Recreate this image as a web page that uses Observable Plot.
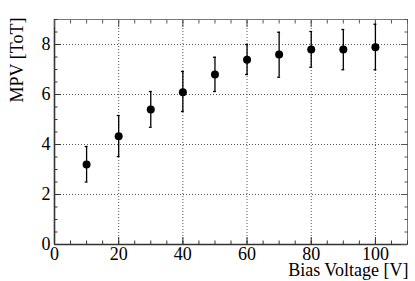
<!DOCTYPE html>
<html>
<head>
<meta charset="utf-8">
<script src="https://cdn.jsdelivr.net/npm/d3@7"></script>
<script src="https://cdn.jsdelivr.net/npm/@observablehq/plot@0.6"></script>
<style>
  html, body { margin: 0; padding: 0; background: #fff; }
  svg text { font-family: 'Liberation Serif', 'DejaVu Serif', serif; }
</style>
</head>
<body>
<div id="chart"></div>
<script>
// Data
const voltage = [10, 20, 30, 40, 50, 60, 70, 80, 90, 100];
const mpv     = [3.2, 4.33, 5.4, 6.09, 6.8, 7.39, 7.6, 7.8, 7.8, 7.89];
const errLow  = [0.7, 0.81, 0.71, 0.77, 0.68, 0.59, 0.91, 0.71, 0.81, 0.9];
const errHigh = [0.72, 0.83, 0.72, 0.83, 0.69, 0.61, 0.89, 0.72, 0.8, 0.92];

const xMajor = [0, 20, 40, 60, 80, 100];
const xMinor = d3.range(0, 111, 5);
const yMajor = [0, 2, 4, 6, 8];
const yMinor = d3.range(0, 9.01, 0.5);
const xGrid = [20, 40, 60, 80, 100];
const yGrid = [2, 4, 6, 8];

const xTitle = "Bias Voltage [V]";
const yTitle = "MPV [ToT]";

const data = voltage.map((v, i) => ({
  v, m: mpv[i], lo: mpv[i] - errLow[i], hi: mpv[i] + errHigh[i]
}));

const font = "'Liberation Serif', 'DejaVu Serif', serif";

const chart = Plot.plot({
  width: 415,
  height: 281,
  marginLeft: 54,
  marginRight: 8,
  marginTop: 19,
  marginBottom: 37,
  style: { fontFamily: font, fontSize: "18px", background: "#fff", color: "#000" },
  x: { domain: [0, 110] },
  y: { domain: [0, 9] },
  marks: [
    // grid
    Plot.ruleX(xGrid, { stroke: "#555", strokeDasharray: "1,2", strokeWidth: 1 }),
    Plot.ruleY(yGrid, { stroke: "#555", strokeDasharray: "1,2", strokeWidth: 1 }),
    // frame
    Plot.frame({ stroke: "#777", strokeWidth: 1 }),
    Plot.ruleX([0], { stroke: "#333", strokeWidth: 1.6 }),
    Plot.ruleY([0], { stroke: "#333", strokeWidth: 1.6 }),
    // minor ticks (inward, all four sides)
    Plot.axisX(xMinor, { anchor: "bottom", tickSize: -3.5, fill: "none", label: null, stroke: "#333" }),
    Plot.axisX(xMinor, { anchor: "top", tickSize: -3.5, fill: "none", label: null, stroke: "#555" }),
    Plot.axisY(yMinor, { anchor: "left", tickSize: -3.5, fill: "none", label: null, stroke: "#333" }),
    Plot.axisY(yMinor, { anchor: "right", tickSize: -3.5, fill: "none", label: null, stroke: "#555" }),
    // major ticks
    Plot.axisX(xMajor, { anchor: "bottom", tickSize: -7, fill: "none", label: null, stroke: "#333" }),
    Plot.axisX(xMajor, { anchor: "top", tickSize: -7, fill: "none", label: null, stroke: "#555" }),
    Plot.axisY(yMajor, { anchor: "left", tickSize: -7, fill: "none", label: null, stroke: "#333" }),
    Plot.axisY(yMajor, { anchor: "right", tickSize: -7, fill: "none", label: null, stroke: "#555" }),
    // tick labels
    Plot.axisX(xMajor, { anchor: "bottom", tickSize: 0, tickPadding: 3, label: null, fontSize: 18, fontFamily: font, fill: "#000" }),
    Plot.axisY(yMajor, { anchor: "left", tickSize: 0, tickPadding: 4, label: null, fontSize: 18, fontFamily: font, fill: "#000" }),
    // axis titles
    Plot.text([xTitle], { frameAnchor: "bottom-right", textAnchor: "end", lineAnchor: "bottom", dx: 1, dy: 31.5, fontSize: 18, fontFamily: font, fill: "#000" }),
    Plot.text([yTitle], { frameAnchor: "top-left", rotate: -90, textAnchor: "end", lineAnchor: "bottom", dx: -32, dy: -2, fontSize: 18, fontFamily: font, fill: "#000" }),
    // error bars
    Plot.ruleX(data, { x: "v", y1: "lo", y2: "hi", stroke: "#000", strokeWidth: 1.3 }),
    Plot.ruleY(data, { y: "lo", x1: d => d.v - 0.45, x2: d => d.v + 0.45, stroke: "#000", strokeWidth: 1.3 }),
    Plot.ruleY(data, { y: "hi", x1: d => d.v - 0.45, x2: d => d.v + 0.45, stroke: "#000", strokeWidth: 1.3 }),
    // points
    Plot.dot(data, { x: "v", y: "m", r: 4, fill: "#000", stroke: "none" })
  ]
});
document.getElementById("chart").appendChild(chart);
</script>
</body>
</html>
